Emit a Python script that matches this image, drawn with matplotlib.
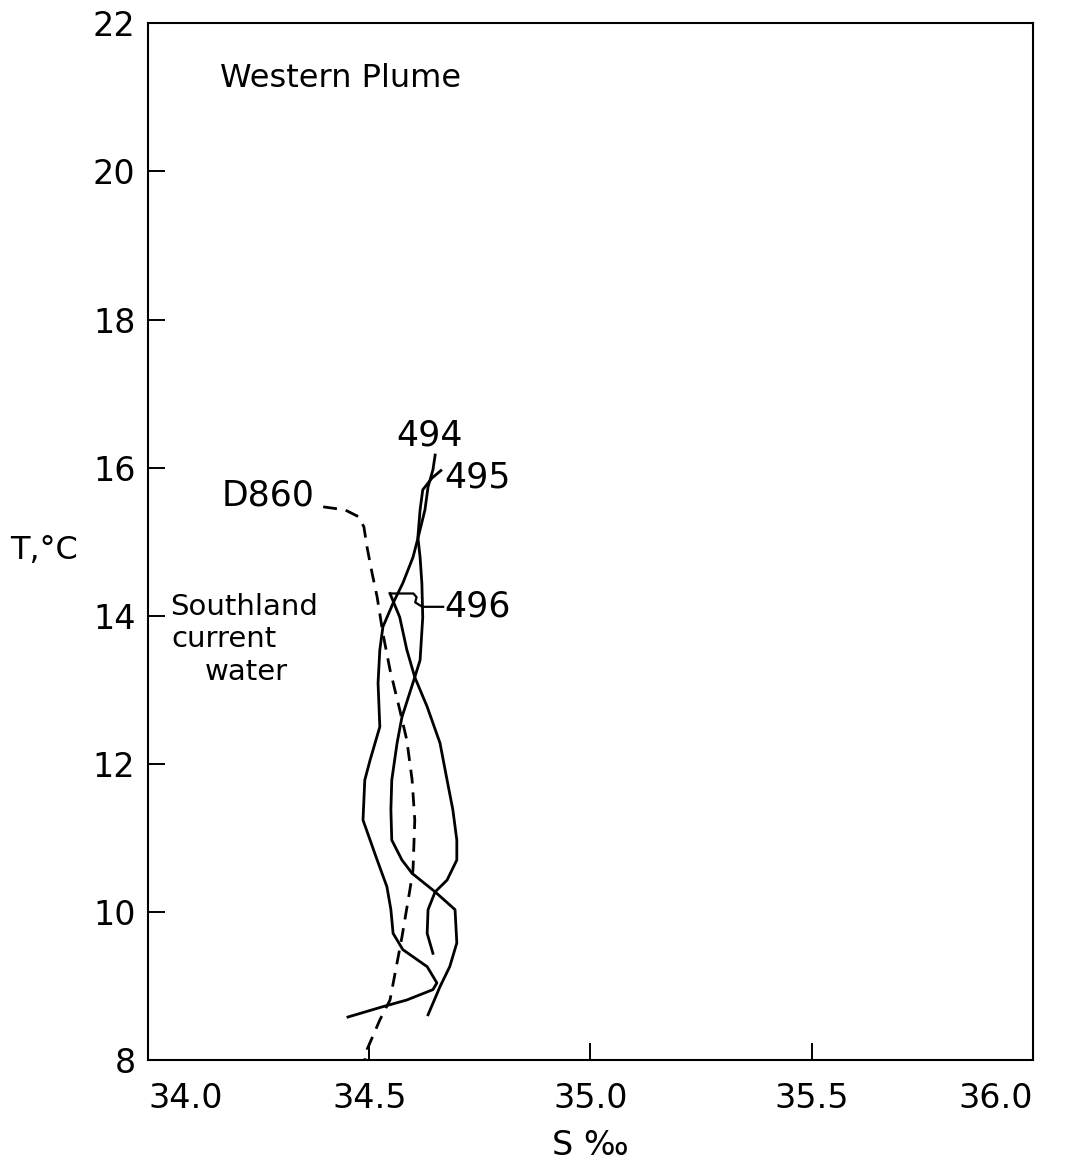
import matplotlib
matplotlib.use('Agg')
import matplotlib.pyplot as plt
import matplotlib.transforms as mtransforms

# T-S profiles (salinity S, temperature T)
s_494 = [34.649, 34.644, 34.633, 34.626, 34.612, 34.599, 34.576, 34.554, 34.531, 34.524,
         34.520, 34.524, 34.502, 34.490, 34.486, 34.518, 34.540, 34.549, 34.554, 34.576,
         34.631, 34.653, 34.644, 34.585, 34.531, 34.452]
t_494 = [16.17, 15.97, 15.74, 15.43, 15.09, 14.79, 14.44, 14.17, 13.85, 13.54,
         13.09, 12.50, 12.05, 11.78, 11.24, 10.70, 10.34, 10.03, 9.71, 9.49,
         9.26, 9.04, 8.95, 8.81, 8.72, 8.58]

s_495 = [34.662, 34.642, 34.621, 34.615, 34.610, 34.615, 34.619, 34.621, 34.615, 34.603,
         34.574, 34.563, 34.551, 34.549, 34.551, 34.574, 34.597, 34.649, 34.694, 34.698,
         34.682, 34.660, 34.633]
t_495 = [15.96, 15.86, 15.70, 15.43, 15.06, 14.79, 14.44, 13.98, 13.40, 13.17,
         12.63, 12.28, 11.78, 11.38, 10.97, 10.70, 10.52, 10.27, 10.03, 9.58,
         9.26, 8.99, 8.61]

s_496 = [34.547, 34.569, 34.585, 34.603, 34.631, 34.660, 34.676, 34.689, 34.698, 34.698,
         34.676, 34.649, 34.633, 34.631, 34.644]
t_496 = [14.30, 13.98, 13.54, 13.17, 12.77, 12.28, 11.78, 11.38, 10.97, 10.70,
         10.43, 10.27, 10.03, 9.71, 9.44]

s_d860 = [34.396, 34.445, 34.475, 34.488, 34.495, 34.506, 34.518, 34.531, 34.547, 34.569,
          34.585, 34.597, 34.603, 34.599, 34.592, 34.574, 34.547, 34.524, 34.495, 34.490]
t_d860 = [15.47, 15.43, 15.34, 15.20, 14.93, 14.59, 14.25, 13.76, 13.27, 12.73,
          12.32, 11.78, 11.24, 10.57, 10.30, 9.66, 8.81, 8.54, 8.14, 8.00]

# leader of the 496 label
s_lead = [34.667, 34.620, 34.604, 34.607, 34.600, 34.547]
t_lead = [14.12, 14.12, 14.18, 14.25, 14.30, 14.30]

xticks = [34.0, 34.5, 35.0, 35.5, 36.0]
yticks = [8, 10, 12, 14, 16, 18, 20, 22]

plt.rcParams['font.family'] = ['DejaVu Sans']
fs_tick = 24
fs_txt = 23
fs_num = 25
fs_sw = 21

fig = plt.figure(figsize=(10.76, 11.68), dpi=100)
ax = fig.add_axes([0.1375, 0.0925, 0.8225, 0.8875])

lw = 2.0
ax.plot(s_494, t_494, color='black', lw=lw)
ax.plot(s_495, t_495, color='black', lw=lw)
ax.plot(s_496, t_496, color='black', lw=lw)
ax.plot(s_d860, t_d860, color='black', lw=lw, dashes=(5, 3.2))
ax.plot(s_lead, t_lead, color='black', lw=1.6)

ax.set_xlim(34.0, 36.0)
ax.set_ylim(8, 22)
ax.set_xticks(xticks)
ax.set_yticks(yticks)
ax.set_xticklabels(['34.0', '34.5', '35.0', '35.5', '36.0'], fontsize=fs_tick)
ax.set_yticklabels([str(v) for v in yticks], fontsize=fs_tick)
labs = ax.get_xticklabels()
labs[0].set_ha('left')
labs[-1].set_ha('right')
ax.tick_params(axis='both', direction='in', length=12, width=1.4, colors='black')
ax.tick_params(axis='x', pad=16)
ax.tick_params(axis='y', pad=9)
for sp in ax.spines.values():
    sp.set_linewidth(1.5)

ax.set_xlabel('S ‰', fontsize=fs_tick, labelpad=10)
trans = mtransforms.blended_transform_factory(ax.transAxes, ax.transData)
ax.text(-0.156, 14.88, 'T,°C', transform=trans, fontsize=fs_txt, ha='left', va='center')

ax.text(34.163, 21.26, 'Western Plume', fontsize=fs_txt, ha='left', va='center')
ax.text(34.637, 16.44, '494', fontsize=fs_num, ha='center', va='center')
ax.text(34.670, 15.87, '495', fontsize=fs_num, ha='left', va='center')
ax.text(34.377, 15.62, 'D860', fontsize=fs_num, ha='right', va='center')
ax.text(34.669, 14.13, '496', fontsize=fs_num, ha='left', va='center')
ax.text(34.050, 14.12, 'Southland', fontsize=fs_sw, ha='left', va='center')
ax.text(34.053, 13.68, 'current', fontsize=fs_sw, ha='left', va='center')
ax.text(34.128, 13.24, 'water', fontsize=fs_sw, ha='left', va='center')

fig.savefig('out.png', dpi=100, facecolor='white')
